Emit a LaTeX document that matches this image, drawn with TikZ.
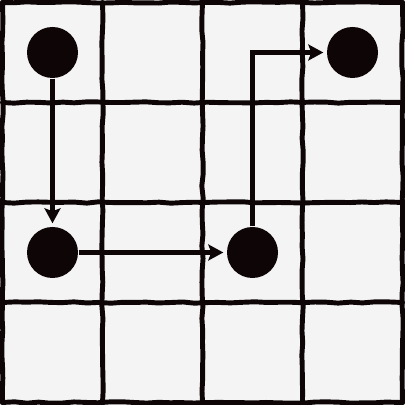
\documentclass[tikz,border=0pt]{standalone}
\usepackage{xcolor}
\usepackage{tikz}
\usetikzlibrary{arrows.meta, positioning, decorations.pathmorphing}

\definecolor{paper}{HTML}{F4F4F4}
\definecolor{ink}{HTML}{0D0506}

\begin{document}
\begin{tikzpicture}[
  x=1cm, y=1cm,
  sketch/.style={draw=ink, line width=1.4pt, line cap=round,
    decorate, decoration={random steps, segment length=0.12cm, amplitude=0.007cm}},
  dot/.style={circle, fill=ink, minimum size=0.51cm, inner sep=0pt},
  arr/.style={-{Stealth[length=0.15cm, width=0.16cm, inset=0.03cm]}, draw=ink, line width=1.3pt, shorten >=0.03cm}
]
  \pgfmathsetseed{7}
  % paper and frame
  \fill[paper] (-0.025,-0.025) rectangle (4.025,4.025);
  \useasboundingbox (-0.025,-0.025) rectangle (4.025,4.025);

  % grid
  \foreach \i in {0,...,4} {
    \draw[sketch] (\i,0) -- (\i,4);
    \draw[sketch] (0,\i) -- (4,\i);
  }

  % cells
  \node[dot] (d00) at (0.5,3.5) {};
  \node[dot] (d30) at (3.5,3.5) {};
  \node[dot] (d02) at (0.5,1.5) {};
  \node[dot] (d22) at (2.5,1.5) {};

  % path
  \draw[arr] (d00) -- (d02);
  \draw[arr] (d02) -- (d22);
  \draw[arr] (d22) |- (d30);
\end{tikzpicture}
\end{document}
